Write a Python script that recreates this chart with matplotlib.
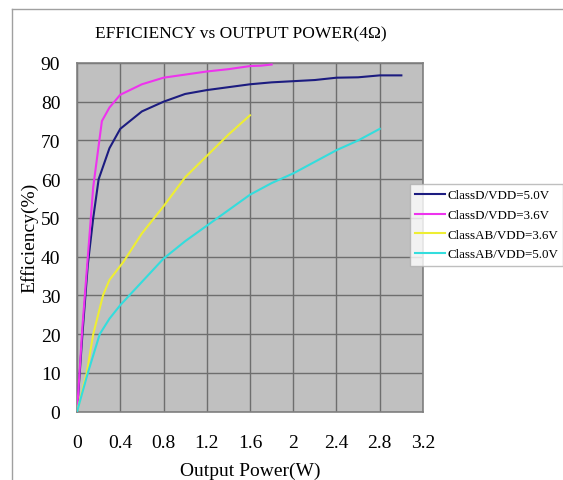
import matplotlib
matplotlib.use('Agg')
import matplotlib.pyplot as plt
from matplotlib.lines import Line2D

# values
d50_w = [0, 0.05, 0.1, 0.15, 0.2, 0.3, 0.4, 0.6, 0.8, 1.0, 1.2, 1.6, 1.8, 2.0, 2.2, 2.4, 2.6, 2.8, 3.0]
d50_e = [0, 20, 38, 50, 60, 68, 73, 77.5, 80, 82, 83, 84.5, 85, 85.3, 85.6, 86.2, 86.3, 86.8, 86.8]

d36_w = [0, 0.05, 0.1, 0.15, 0.23, 0.3, 0.4, 0.6, 0.8, 1.0, 1.2, 1.4, 1.6, 1.7, 1.8]
d36_e = [0, 22, 40, 58, 75, 78.5, 81.8, 84.5, 86.2, 87, 87.8, 88.4, 89.2, 89.3, 89.6]

ab36_w = [0, 0.09, 0.15, 0.24, 0.3, 0.43, 0.6, 0.8, 1.0, 1.2, 1.4, 1.6]
ab36_e = [0, 10, 20, 30, 34, 38.7, 46, 53, 60.5, 66, 71.5, 76.5]

ab50_w = [0, 0.1, 0.21, 0.3, 0.4, 0.5, 0.6, 0.8, 1.0, 1.2, 1.4, 1.6, 1.8, 2.0, 2.2, 2.4, 2.6, 2.8]
ab50_e = [0, 10, 20, 24, 27.5, 30.5, 33.5, 39.5, 44, 48, 52, 56, 59, 61.5, 64.5, 67.5, 70, 73]

series_labels = ["ClassD/VDD=5.0V", "ClassD/VDD=3.6V", "ClassAB/VDD=3.6V", "ClassAB/VDD=5.0V"]
x_ticks = [0, 0.4, 0.8, 1.2, 1.6, 2.0, 2.4, 2.8, 3.2]
x_ticklabels = ["0", "0.4", "0.8", "1.2", "1.6", "2", "2.4", "2.8", "3.2"]
y_ticks = [0, 10, 20, 30, 40, 50, 60, 70, 80, 90]

plt.rcParams['font.family'] = ['Liberation Serif', 'DejaVu Serif']

fig = plt.figure(figsize=(5.63, 4.81), dpi=100)
ax = fig.add_axes([0.1368, 0.142, 0.6145, 0.725])
ax.set_facecolor('#c0c0c0')

colors = ['#1c1c80', '#ee33ee', '#eeee33', '#33dddd']
data = [(d50_w, d50_e), (d36_w, d36_e), (ab36_w, ab36_e), (ab50_w, ab50_e)]
for (w, e), c, lab in zip(data, colors, series_labels):
    ax.plot(w, e, color=c, lw=1.5, label=lab, zorder=3)

ax.set_xlim(0, 3.2)
ax.set_ylim(0, 90)
ax.set_xticks(x_ticks)
ax.set_xticklabels(x_ticklabels)
ax.set_yticks(y_ticks)
ax.tick_params(axis='y', length=0, labelsize=14, pad=12)
ax.tick_params(axis='x', length=0, labelsize=14, pad=16)
ax.grid(True, color='#6e6e6e', lw=1)
ax.set_axisbelow(True)
for s in ax.spines.values():
    s.set_color('#808080')
    s.set_linewidth(1.2)

ax.set_xlabel("Output Power(W)", fontsize=14, labelpad=8)
ax.set_ylabel("Efficiency(%)", fontsize=14, labelpad=2)
fig.text(0.427, 0.928, "EFFICIENCY vs OUTPUT POWER(4Ω)", ha='center', va='center', fontsize=12.5)

# figure border (top and left)
fig.add_artist(Line2D([12/563, 12/563], [0, 1 - 10/481], color='#a0a0a0', lw=1, transform=fig.transFigure))
fig.add_artist(Line2D([12/563, 1], [1 - 10/481, 1 - 10/481], color='#a0a0a0', lw=1, transform=fig.transFigure))

handles, labels = ax.get_legend_handles_labels()
leg = fig.legend(handles, labels, loc='upper left', bbox_to_anchor=(410/563, 1 - 185/481),
                 fontsize=9.4, frameon=True, fancybox=False, edgecolor='#b0b0b0',
                 handlelength=2.3, handletextpad=0.15, borderpad=0.4, labelspacing=0.58,
                 borderaxespad=0)
leg.get_frame().set_linewidth(1)

fig.savefig('out.png', dpi=100)
